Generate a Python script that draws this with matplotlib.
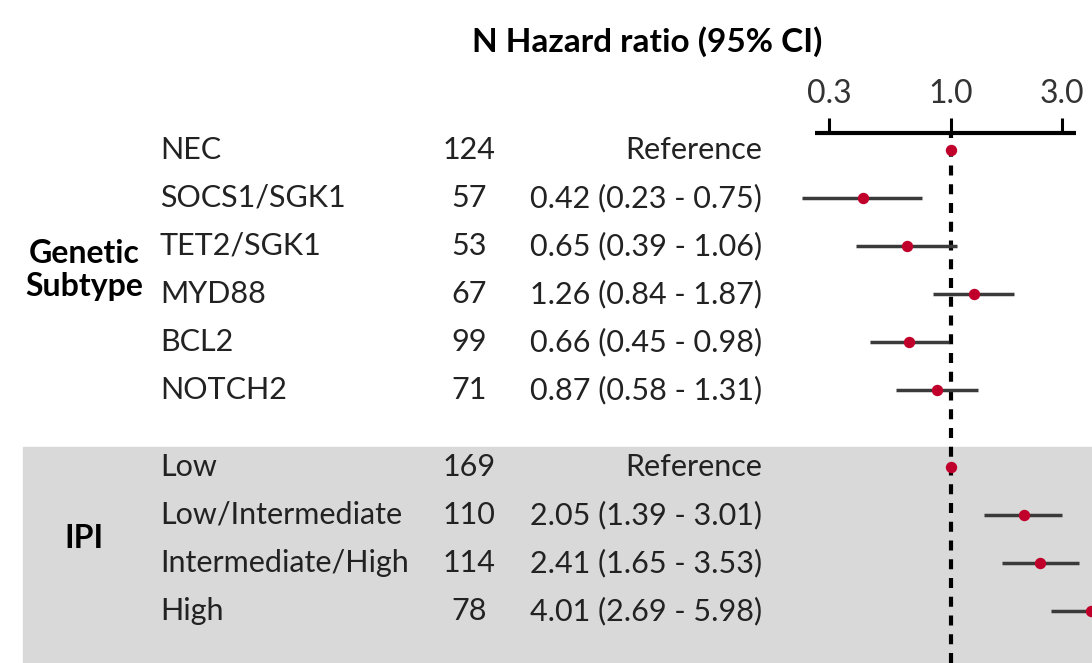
import numpy as np
import matplotlib
matplotlib.use("Agg")
import matplotlib.pyplot as plt
from matplotlib.patches import Rectangle

plt.rcParams['font.family'] = ['Lato', 'DejaVu Sans']

# data
names_gen = ["NEC", "SOCS1/SGK1", "TET2/SGK1", "MYD88", "BCL2", "NOTCH2"]
n_gen = [124, 57, 53, 67, 99, 71]
hr_gen = [1.0, 0.42, 0.65, 1.26, 0.66, 0.87]
lo_gen = [np.nan, 0.23, 0.39, 0.84, 0.45, 0.58]
hi_gen = [np.nan, 0.75, 1.06, 1.87, 0.98, 1.31]

names_ipi = ["Low", "Low/Intermediate", "Intermediate/High", "High"]
n_ipi = [169, 110, 114, 78]
hr_ipi = [1.0, 2.05, 2.41, 4.01]
lo_ipi = [np.nan, 1.39, 1.65, 2.69]
hi_ipi = [np.nan, 3.01, 3.53, 5.98]

ticks = [0.3, 1.0, 3.0]

# row positions (row units), gap between the two groups
rows_gen = np.arange(len(names_gen))
rows_ipi = np.arange(len(names_ipi)) + 6.6

W, H = 1092, 663
fig = plt.figure(figsize=(W / 100, H / 100), dpi=100)

ymin_all, ymax_all = 10.69, -3.125

# background / table axes
bg = fig.add_axes([0, 0, 1, 1])
bg.set_xlim(0, W)
bg.set_ylim(ymin_all, ymax_all)
bg.axis("off")

bg.add_patch(Rectangle((23, rows_ipi[0] - 0.41), W, 10, color="#d9d9d9", zorder=0))

fs = 22
fsb = 23
txtc = "#222222"


def fmt(h, l, u):
    if np.isnan(l):
        return "Reference"
    return "%.2f (%.2f - %.2f)" % (h, l, u)


for rows, names, ns, hrs, los, his in [
    (rows_gen, names_gen, n_gen, hr_gen, lo_gen, hi_gen),
    (rows_ipi, names_ipi, n_ipi, hr_ipi, lo_ipi, hi_ipi),
]:
    for r, nm, n, h, l, u in zip(rows, names, ns, hrs, los, his):
        bg.text(160, r, nm, fontsize=fs, color=txtc, ha="left", va="center")
        bg.text(469, r, str(n), fontsize=fs, color=txtc, ha="center", va="center")
        bg.text(762, r, fmt(h, l, u), fontsize=fs, color=txtc, ha="right", va="center")

bg.text(84, (rows_gen[2] + rows_gen[3]) / 2, "Genetic\nSubtype", fontsize=fsb,
        fontweight="bold", ha="center", va="center", linespacing=1.2, color="black")
bg.text(84, (rows_ipi[1] + rows_ipi[2]) / 2, "IPI", fontsize=fsb,
        fontweight="bold", ha="center", va="center", color="black")
bg.text(472, -2.25, "N Hazard ratio (95% CI)", fontsize=24, fontweight="bold",
        ha="left", va="center", color="black")

# forest axes
top_px = 133
ax = fig.add_axes([790 / W, 0, 302 / W, (H - top_px) / H])
ax.set_facecolor("none")
ax.set_xscale("log")
ax.set_xlim(0.204, 4.03)
ax.set_ylim(ymin_all, (top_px - 150) / 48.0)

for s in ["left", "right", "bottom"]:
    ax.spines[s].set_visible(False)
ax.spines["top"].set_linewidth(3.0)
ax.spines["top"].set_bounds(0.261, 3.44)
ax.spines["top"].set_capstyle("butt")
ax.xaxis.set_ticks_position("top")
ax.set_xticks(ticks)
ax.set_xticklabels(["%.1f" % t for t in ticks])
ax.xaxis.set_minor_locator(matplotlib.ticker.NullLocator())
ax.tick_params(axis="x", direction="out", length=11, width=2.2, pad=6,
               labelsize=fsb, labelcolor="#333333")
ax.set_yticks([])

ax.axvline(1.0, color="black", lw=3.0, dashes=[2.4, 2.1], zorder=1)

rows_all = np.concatenate([rows_gen, rows_ipi])
hr_all = np.array(hr_gen + hr_ipi)
lo_all = np.array(lo_gen + lo_ipi)
hi_all = np.array(hi_gen + hi_ipi)
ok = ~np.isnan(lo_all)
ax.hlines(rows_all[ok], lo_all[ok], hi_all[ok], color="#3a3a3a", lw=2.5, zorder=2)
ax.plot(hr_all, rows_all, "o", color="#c0002a", ms=8.2, mec="none", zorder=3,
        clip_on=True)

fig.savefig("out.png", dpi=100)
